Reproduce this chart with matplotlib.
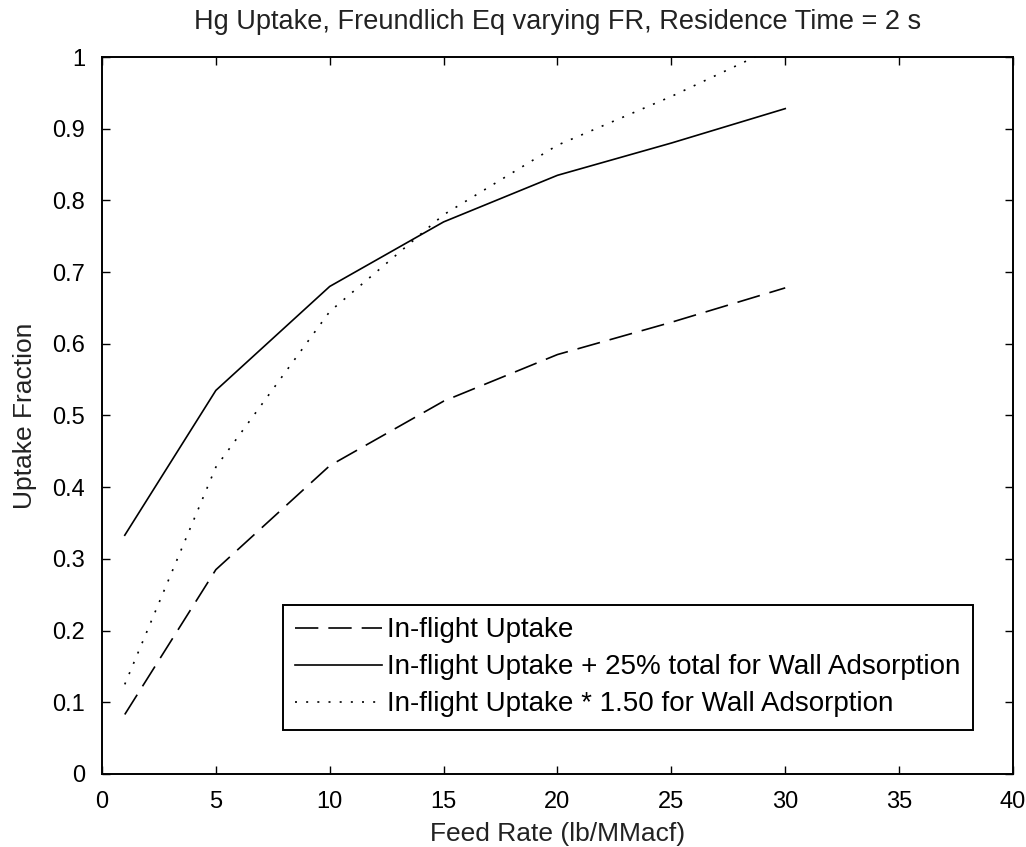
import matplotlib
matplotlib.use("Agg")
import matplotlib.pyplot as plt

feed_rate = [1, 5, 10, 15, 20, 25, 30]
inflight = [0.083, 0.285, 0.43, 0.52, 0.585, 0.63, 0.678]
inflight_plus25 = [0.333, 0.535, 0.68, 0.77, 0.835, 0.88, 0.928]
inflight_x150 = [0.125, 0.428, 0.645, 0.78, 0.877, 0.945, 1.02]

labels = ["In-flight Uptake",
          "In-flight Uptake + 25% total for Wall Adsorption",
          "In-flight Uptake * 1.50 for Wall Adsorption"]
title = "Hg Uptake, Freundlich Eq varying FR, Residence Time = 2 s"
xlabel = "Feed Rate (lb/MMacf)"
ylabel = "Uptake Fraction"
xticks = [0, 5, 10, 15, 20, 25, 30, 35, 40]
yticks = [0, 0.1, 0.2, 0.3, 0.4, 0.5, 0.6, 0.7, 0.8, 0.9, 1]
ytick_labels = ["0", "0.1", "0.2", "0.3", "0.4", "0.5", "0.6", "0.7", "0.8", "0.9", "1"]

plt.rcParams['font.family'] = ['Liberation Sans', 'DejaVu Sans']

fig = plt.figure(figsize=(10.26, 8.47), dpi=100)
ax = fig.add_axes([0.0994, 0.0862, 0.8879, 0.8465])

lw = 1.2
ax.plot(feed_rate, inflight, color='black', lw=lw, dashes=(14, 6), label=labels[0])
ax.plot(feed_rate, inflight_plus25, color='black', lw=lw, linestyle='-', label=labels[1])
ax.plot(feed_rate, inflight_x150, color='black', lw=lw, dashes=(1.2, 5.5), label=labels[2])

ax.set_xlim(0, 40)
ax.set_ylim(0, 1)
ax.set_xticks(xticks)
ax.set_xticklabels([str(v) for v in xticks])
ax.set_yticks(yticks)
ax.set_yticklabels(ytick_labels)
ax.tick_params(direction='in', length=6, width=1.0, top=True, right=True,
               labelsize=17, colors='black', pad=12)
for s in ax.spines.values():
    s.set_linewidth(1.4)
    s.set_color('black')

ax.set_title(title, fontsize=19.5, pad=20, color='#222222')
ax.set_xlabel(xlabel, fontsize=19, labelpad=7, color='#222222')
ax.set_ylabel(ylabel, fontsize=19, labelpad=11, color='#222222')

leg = ax.legend(loc='lower left', bbox_to_anchor=(0.1987, 0.0614), borderaxespad=0,
                fontsize=20, handlelength=3.1, handletextpad=0.2, labelspacing=0.4,
                borderpad=0.45, fancybox=False, edgecolor='black', framealpha=1)
leg.get_frame().set_linewidth(1.4)

fig.savefig("out.png", dpi=100, facecolor='white')
